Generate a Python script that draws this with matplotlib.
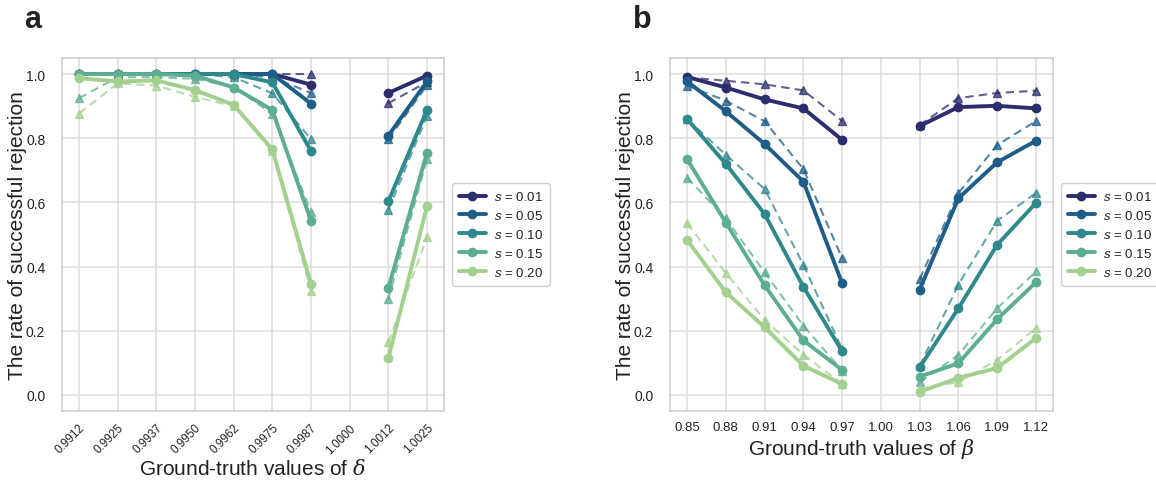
import numpy as np
import matplotlib
matplotlib.use("Agg")
import matplotlib.pyplot as plt
import seaborn as sns

nan = np.nan
s_labels = ["0.01", "0.05", "0.10", "0.15", "0.20"]

delta_ticks = ["0.9912", "0.9925", "0.9937", "0.9950", "0.9962",
               "0.9975", "0.9987", "1.0000", "1.0012", "1.0025"]
beta_ticks = ["0.85", "0.88", "0.91", "0.94", "0.97",
              "1.00", "1.03", "1.06", "1.09", "1.12"]

# Panel a: solid (circles)
a_solid = [
    [1.00, 1.00, 1.00, 1.00, 1.00, 1.00, 0.967, nan, 0.941, 0.995],
    [1.00, 1.00, 1.00, 1.00, 1.00, 1.00, 0.908, nan, 0.808, 0.977],
    [1.00, 1.00, 1.00, 1.00, 1.00, 0.974, 0.760, nan, 0.603, 0.889],
    [1.00, 1.00, 1.00, 0.995, 0.958, 0.888, 0.542, nan, 0.333, 0.755],
    [0.987, 0.977, 0.980, 0.950, 0.904, 0.765, 0.346, nan, 0.114, 0.588],
]
# Panel a: dashed (triangles)
a_dash = [
    [1.00, 1.00, 1.00, 1.00, 1.00, 1.00, 1.00, nan, 0.909, 0.975],
    [1.00, 1.00, 1.00, 1.00, 1.00, 0.99, 0.941, nan, 0.797, 0.965],
    [1.00, 1.00, 1.00, 1.00, 0.99, 0.940, 0.797, nan, 0.576, 0.870],
    [0.925, 0.99, 0.99, 0.985, 0.960, 0.875, 0.570, nan, 0.299, 0.735],
    [0.877, 0.971, 0.964, 0.929, 0.900, 0.760, 0.325, nan, 0.164, 0.491],
]
# Panel b: solid (circles)
b_solid = [
    [0.991, 0.958, 0.921, 0.893, 0.795, nan, 0.838, 0.897, 0.901, 0.893],
    [0.977, 0.884, 0.782, 0.665, 0.348, nan, 0.328, 0.613, 0.725, 0.792],
    [0.860, 0.720, 0.564, 0.337, 0.136, nan, 0.086, 0.270, 0.468, 0.598],
    [0.735, 0.537, 0.342, 0.170, 0.078, nan, 0.057, 0.099, 0.236, 0.351],
    [0.483, 0.320, 0.211, 0.091, 0.034, nan, 0.010, 0.053, 0.084, 0.177],
]
# Panel b: dashed (triangles)
b_dash = [
    [0.990, 0.979, 0.968, 0.949, 0.854, nan, 0.841, 0.925, 0.941, 0.948],
    [0.964, 0.917, 0.853, 0.704, 0.426, nan, 0.361, 0.629, 0.779, 0.853],
    [0.860, 0.748, 0.642, 0.406, 0.143, nan, 0.090, 0.344, 0.543, 0.629],
    [0.677, 0.550, 0.382, 0.216, 0.076, nan, 0.040, 0.125, 0.270, 0.385],
    [0.535, 0.380, 0.234, 0.126, 0.034, nan, 0.020, 0.040, 0.109, 0.208],
]

sns.set_theme(style="whitegrid")
plt.rcParams['font.family'] = ['Liberation Sans', 'DejaVu Sans']
plt.rcParams['mathtext.fontset'] = 'dejavuserif'

colors = ['#2b2d6c', '#1e5d88', '#2f898b', '#5cad94', '#a3d08f']

fig = plt.figure(figsize=(11.56, 4.85), dpi=100)
W, H = 1156, 485
axa = fig.add_axes([62 / W, 1 - 412 / H, (444 - 62) / W, (412 - 59) / H])
axb = fig.add_axes([670 / W, 1 - 412 / H, (1053 - 670) / W, (412 - 59) / H])


def draw(ax, solid, dash, ticks, xlabel, rot, xlabelpad):
    x = np.arange(len(ticks))
    handles = []
    for i in range(len(s_labels)):
        ax.plot(x, dash[i], linestyle=(0, (4, 2.5)), lw=1.5, marker='^', ms=6,
                color=colors[i], alpha=0.75, zorder=2)
    for i in range(len(s_labels)):
        h, = ax.plot(x, solid[i], linestyle='-', lw=2.8, marker='o', ms=6,
                     color=colors[i], zorder=3, label=f"$s$ = {s_labels[i]}")
        handles.append(h)
    ax.set_xlim(-0.44, 9.44)
    ax.set_ylim(-0.05, 1.05)
    ax.set_xticks(x)
    if rot:
        ax.set_xticklabels(ticks, rotation=45, ha='right', rotation_mode='anchor',
                           fontsize=8.5)
        ax.tick_params(axis='x', pad=1.5, colors='#222222')
    else:
        ax.set_xticklabels(ticks, fontsize=9.5)
        ax.tick_params(axis='x', pad=1.5, colors='#222222')
    ax.set_yticks([0, 0.2, 0.4, 0.6, 0.8, 1.0])
    ax.set_yticklabels(["0.0", "0.2", "0.4", "0.6", "0.8", "1.0"], fontsize=10)
    ax.tick_params(axis='y', pad=6, colors='#222222')
    ax.set_xlabel(xlabel, fontsize=15, color='#222222', labelpad=xlabelpad)
    ax.set_ylabel("The rate of successful rejection", fontsize=15, color='#222222')
    ax.yaxis.set_label_coords(-0.092, 0.5)
    ax.grid(True, color='#dcdcdc', lw=1.1)
    for sp in ax.spines.values():
        sp.set_color('#cfcfcf')
        sp.set_linewidth(1.2)
    leg = ax.legend(handles=handles, loc='center left', bbox_to_anchor=(1.021, 0.5),
                    borderaxespad=0.0,
                    fontsize=9.5, handlelength=2.0, handletextpad=0.6,
                    frameon=True, framealpha=1,
                    edgecolor='#d0d0d0', borderpad=0.55, labelspacing=0.45)
    for t in leg.get_texts():
        t.set_color('#222222')


draw(axa, a_solid, a_dash, delta_ticks, r"Ground-truth values of $\delta$", True, 2)
draw(axb, b_solid, b_dash, beta_ticks, r"Ground-truth values of $\beta$", False, 2)

fig.text(24 / W, 1 - 20 / H, "a", fontsize=22, fontweight='bold', va='center',
         ha='left', color='#222222')
fig.text(633 / W, 1 - 20 / H, "b", fontsize=22, fontweight='bold', va='center',
         ha='left', color='#222222')

fig.savefig("out.png", dpi=100)
